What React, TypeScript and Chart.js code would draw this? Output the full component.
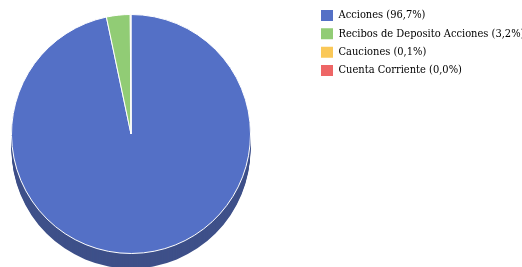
import React, { useEffect, useRef } from "react";
import { Chart, registerables } from "chart.js";

Chart.register(...registerables);

const categories = ["Acciones", "Recibos de Deposito Acciones", "Cauciones", "Cuenta Corriente"];
const values = [96.7, 3.2, 0.1, 0.0];
const legendLabels = ["Acciones (96,7%)", "Recibos de Deposito Acciones (3,2%)", "Cauciones (0,1%)", "Cuenta Corriente (0,0%)"];
const colors = ["#5470c6", "#91cc75", "#fac858", "#ee6666"];
const sideColors = ["#3e5089", "#67924f", "#b8923d", "#a84848"];

const DEPTH = 15;
const LEGEND_PAD = 7.33;

const depthPlugin = {
  id: "depth3d",
  afterLayout(chart: any) {
    const ca = chart.chartArea;
    ca.left = 0;
    ca.right = 262;
    ca.width = ca.right - ca.left;
    const lg = chart.legend;
    if (lg) {
      const w = lg.right - lg.left;
      lg.left = 321 - LEGEND_PAD;
      lg.right = lg.left + w;
      const h = lg.bottom - lg.top;
      lg.top = 10 - LEGEND_PAD;
      lg.bottom = lg.top + h;
    }
  },
  beforeDatasetsDraw(chart: any) {
    const meta = chart.getDatasetMeta(0);
    const ctx = chart.ctx;
    ctx.save();
    for (let d = DEPTH; d >= 1; d--) {
      meta.data.forEach((arc: any, i: number) => {
        const { x, y, startAngle, endAngle, outerRadius } = arc.getProps(["x", "y", "startAngle", "endAngle", "outerRadius"], true);
        if (endAngle - startAngle <= 0) return;
        ctx.beginPath();
        ctx.moveTo(x, y + d);
        ctx.arc(x, y + d, outerRadius, startAngle, endAngle);
        ctx.closePath();
        ctx.fillStyle = sideColors[i];
        ctx.fill();
      });
    }
    ctx.restore();
  },
};

export default function App() {
  const ref = useRef<HTMLCanvasElement>(null);
  useEffect(() => {
    document.body.style.margin = "0";
    const chart = new Chart(ref.current!, {
      type: "pie",
      data: {
        labels: categories,
        datasets: [
          {
            data: values,
            backgroundColor: colors,
            borderColor: "#ffffff",
            borderWidth: 1,
          },
        ],
      },
      options: {
        responsive: false,
        animation: false,
        layout: { padding: { top: 14, bottom: 13, left: 0, right: 0 } },
        plugins: {
          tooltip: { enabled: false },
          legend: {
            position: "right",
            align: "start",
            labels: {
              boxWidth: 12,
              boxHeight: 11,
              padding: LEGEND_PAD,
              color: "#333333",
              font: { family: "'DejaVu Serif Condensed', 'DejaVu Serif'", size: 11 },
              generateLabels: (chart: any) =>
                legendLabels.map((t, i) => ({
                  text: t,
                  fillStyle: colors[i],
                  strokeStyle: colors[i],
                  lineWidth: 0,
                  hidden: false,
                  index: i,
                })),
            },
          },
        },
      },
      plugins: [depthPlugin],
    });
    return () => chart.destroy();
  }, []);
  return (
    <div style={{ position: "absolute", left: 0, top: 0, width: 522, height: 267 }}>
      <canvas ref={ref} width={522} height={267} />
    </div>
  );
}
